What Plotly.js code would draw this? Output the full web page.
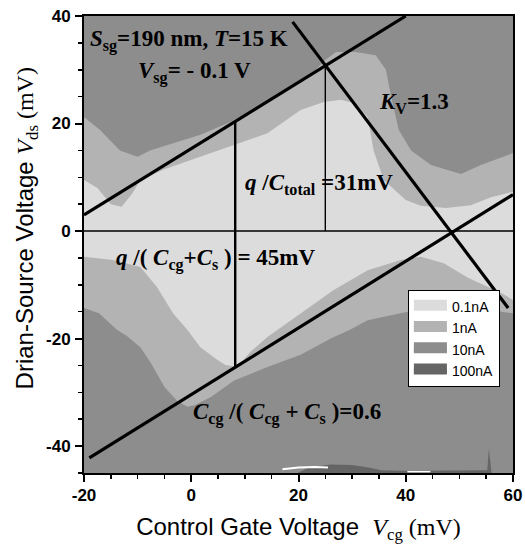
<!DOCTYPE html>
<html>
<head>
<meta charset="utf-8">
<script src="https://cdn.plot.ly/plotly-3.0.1.min.js"></script>
<style>html,body{margin:0;padding:0;background:#fff;}</style>
</head>
<body>
<div id="chart" style="width:525px;height:546px;"></div>
<script>
// ---- axis ranges & tick labels ----
const xRange = [-20, 60];
const yRange = [-45, 40];
const xTickVals = [-20, 0, 20, 40, 60];
const xTickText = ["-20", "0", "20", "40", "60"];
const yTickVals = [-40, -20, 0, 20, 40];
const yTickText = ["-40", "-20", "0", "20", "40"];

// ---- current level legend labels & colours ----
const levelNames = ["0.1nA", "1nA", "10nA", "100nA"];
const levelColors = ["#dcdcdc", "#b3b3b3", "#8d8d8d", "#656565"];

// ---- boundary of 1nA region (outer, towards 10nA) ----
const upperOuterX = [-20, -17, -13.3, -10, -7.7, -4.5, -1.1, 1.7, 7.3, 12.9, 18.5, 22.2, 25, 27, 30.6, 34.4, 36.3, 37.2, 38.7, 41, 44.7, 50.3, 54, 60];
const upperOuterY = [21.2, 18.8, 15, 13.8, 15, 16, 17, 17.9, 20.3, 23.4, 26.6, 29, 31.8, 33.3, 33.3, 32.7, 30, 25.3, 18.8, 15, 12.3, 10.6, 12.3, 14.5];
const lowerOuterX = [-20, -17.2, -13.8, -12, -9.5, -7.5, -5, -2.6, -0.7, 0.6, 3.6, 8, 14.2, 20.4, 26, 29.5, 32.9, 39, 45.2, 51.6, 60];
const lowerOuterY = [-14.3, -15.3, -18.4, -19.5, -21.6, -24.6, -29, -31.6, -32.7, -32.4, -30.9, -27.8, -25.3, -23, -20, -18.4, -16.6, -15.3, -14.1, -14.1, -15.3];

// ---- boundary of 0.1nA region (inner) ----
const upperInnerX = [-20, -17.5, -15, -13, -11, -9.5, -5, 1.7, 8, 14.2, 20.4, 24.7, 27.9, 30.3, 32.9, 34, 35.9, 38.1, 40, 42.8, 47.5, 52.1, 55.9, 60];
const upperInnerY = [9.5, 8, 5, 4.5, 7, 9.5, 11.5, 13.8, 16, 18.2, 22.5, 24, 24.4, 23.8, 21.2, 15, 9.5, 7.6, 5.8, 4.7, 4.3, 4.8, 6.3, 7.3];
const lowerInnerX = [-20, -14.6, -9.5, -6.4, -3.4, -0.7, 1.7, 4.9, 6.4, 8.6, 11, 14.2, 20.4, 26.5, 32.9, 39.1, 42.8, 47.1, 51.6, 57.8, 60];
const lowerInnerY = [-4.8, -5.4, -6.7, -10.4, -15.3, -18.4, -21.6, -24, -24.9, -25.3, -22.5, -19.7, -15.3, -11, -7.3, -5.4, -4.8, -6, -8.7, -11.5, -12.8];

// ---- 100nA patch at the bottom ----
const high100X = [19.8, 22, 26, 30, 33, 35.5, 40, 50, 55.2, 55.5, 55.9, 56, 19.8];
const high100Y = [-45, -44, -43.4, -43.5, -44, -44.5, -44.6, -44.6, -44.5, -40.5, -44.5, -45, -45];
// white (no data) slivers
const gap1X = [17, 20, 23, 25.5];
const gap1Y = [-44.3, -44.0, -43.9, -44.0];
const gap2X = [40.3, 44.6];
const gap2Y = [-44.75, -44.75];

// ---- guide lines ----
const slopeUpX = [-20, 40];          // upper diagonal
const slopeUpY = [3, 40];
const slopeLowX = [-19, 60];         // lower diagonal  Ccg/(Ccg+Cs)=0.6
const slopeLowY = [-42.2, 6.8];
const kvX = [18.9, 59.1];            // K_V = 1.3
const kvY = [38.9, -14.3];
const vert1X = [8.2, 8.2];           // q/(Ccg+Cs)=45mV
const vert1Y = [-25.3, 20.4];
const vert2X = [25, 25];             // q/Ctotal = 31mV
const vert2Y = [0, 30.7];
const zeroX = xRange;
const zeroY = [0, 0];

function rev(a){ return a.slice().reverse(); }

const traces = [];
// 10nA background
traces.push({x:[xRange[0], xRange[1], xRange[1], xRange[0]], y:[yRange[0], yRange[0], yRange[1], yRange[1]],
  mode:'lines', fill:'toself', fillcolor:levelColors[2], line:{width:0, color:levelColors[2]}, showlegend:false, hoverinfo:'skip'});
// 1nA
traces.push({x:upperOuterX.concat(rev(lowerOuterX)), y:upperOuterY.concat(rev(lowerOuterY)),
  mode:'lines', fill:'toself', fillcolor:levelColors[1], line:{width:0, color:levelColors[1]}, showlegend:false, hoverinfo:'skip'});
// 0.1nA
traces.push({x:upperInnerX.concat(rev(lowerInnerX)), y:upperInnerY.concat(rev(lowerInnerY)),
  mode:'lines', fill:'toself', fillcolor:levelColors[0], line:{width:0, color:levelColors[0]}, showlegend:false, hoverinfo:'skip'});
// 100nA
traces.push({x:high100X, y:high100Y, mode:'lines', fill:'toself', fillcolor:levelColors[3], line:{width:0, color:levelColors[3]}, showlegend:false, hoverinfo:'skip'});
traces.push({x:gap1X, y:gap1Y, mode:'lines', line:{width:2, color:'#ffffff'}, showlegend:false, hoverinfo:'skip'});
traces.push({x:gap2X, y:gap2Y, mode:'lines', line:{width:1.5, color:'#ffffff'}, showlegend:false, hoverinfo:'skip'});

// guide lines
const thick = {color:'#000', width:3.2};
const thin = {color:'#000', width:1.4};
traces.push({x:zeroX, y:zeroY, mode:'lines', line:thin, showlegend:false, hoverinfo:'skip'});
traces.push({x:vert2X, y:vert2Y, mode:'lines', line:thin, showlegend:false, hoverinfo:'skip'});
traces.push({x:vert1X, y:vert1Y, mode:'lines', line:{color:'#000', width:2.4}, showlegend:false, hoverinfo:'skip'});
traces.push({x:slopeUpX, y:slopeUpY, mode:'lines', line:thick, showlegend:false, hoverinfo:'skip'});
traces.push({x:slopeLowX, y:slopeLowY, mode:'lines', line:thick, showlegend:false, hoverinfo:'skip'});
traces.push({x:kvX, y:kvY, mode:'lines', line:thick, showlegend:false, hoverinfo:'skip'});

// legend entries
levelNames.forEach((n, i) => {
  traces.push({x:[null], y:[null], mode:'lines', fill:'toself', fillcolor:levelColors[i],
    line:{width:10, color:levelColors[i]}, name:n, showlegend:true, hoverinfo:'skip'});
});

const serif = 'Liberation Serif, Times New Roman, serif';
const sans = 'Liberation Sans, Arial, sans-serif';
const annFont = {family:serif, size:23, color:'#000', weight:'bold'};

function ann(x, y, text, extra){
  return Object.assign({x:x, y:y, xref:'x', yref:'y', text:text, showarrow:false, xanchor:'left', yanchor:'middle', font:annFont}, extra||{});
}

const annotations = [
  ann(-19.2, 35.4, '<i>S</i><sub>sg</sub>=190 nm, <i>T</i>=15 K'),
  ann(-10.3, 29.4, '<i>V</i><sub>sg</sub>= - 0.1 V'),
  ann(34.6, 23.8, '<i>K</i><sub>V</sub>=1.3'),
  ann(9.6, 8.8, '<i>q</i> /<i>C</i><sub>total</sub> =31mV'),
  ann(-14.4, -5.3, '<i>q</i> /( <i>C</i><sub>cg</sub>+<i>C</i><sub>s</sub> ) = 45mV'),
  ann(0.0, -34.0, '<i>C</i><sub>cg</sub> /( <i>C</i><sub>cg</sub> + <i>C</i><sub>s</sub> )=0.6'),
  {xref:'paper', yref:'paper', x:-0.133, y:0.535, textangle:-90, showarrow:false, xanchor:'center', yanchor:'middle',
   font:{family:sans, size:24, color:'#000'},
   text:'Drian-Source Voltage <span style="font-family:Liberation Serif"><i>V</i><sub>ds</sub> (mV)</span>'}
];

const layout = {
  width:525, height:546,
  margin:{l:84, r:12, t:16, b:73},
  paper_bgcolor:'#fff', plot_bgcolor:levelColors[2],
  showlegend:true,
  legend:{x:0.755, y:0.40, xanchor:'left', yanchor:'top', bgcolor:'#fff', bordercolor:'#000', borderwidth:1,
    font:{family:sans, size:14, color:'#000'}, itemwidth:33, tracegroupgap:0,
    entrywidth:100, entrywidthmode:'pixels'},
  xaxis:{range:xRange, tickmode:'array', tickvals:xTickVals, ticktext:xTickText, ticks:'outside', ticklen:7, tickwidth:2, tickcolor:'#000',
    minor:{tickmode:'linear', tick0:0, dtick:5, ticks:'outside', ticklen:4, tickwidth:1.5, tickcolor:'#000'},
    showline:true, linewidth:2, linecolor:'#000', mirror:true, showgrid:false, zeroline:false, ticklabelstandoff:-1,
    tickfont:{family:sans, size:17, color:'#000', weight:'bold'},
    title:{text:'Control Gate Voltage  <span style="font-family:Liberation Serif"><i>V</i><sub>cg</sub> (mV)</span>',
      font:{family:sans, size:24, color:'#000'}, standoff:14}},
  yaxis:{range:yRange, tickmode:'array', tickvals:yTickVals, ticktext:yTickText, ticks:'outside', ticklen:7, tickwidth:2, tickcolor:'#000',
    minor:{tickmode:'linear', tick0:0, dtick:5, ticks:'outside', ticklen:4, tickwidth:1.5, tickcolor:'#000'},
    showline:true, linewidth:2, linecolor:'#000', mirror:true, showgrid:false, zeroline:false, ticklabelstandoff:1,
    tickfont:{family:sans, size:17, color:'#000', weight:'bold'}},
  annotations:annotations
};

Plotly.newPlot('chart', traces, layout, {displayModeBar:false, staticPlot:true});
</script>
</body>
</html>
